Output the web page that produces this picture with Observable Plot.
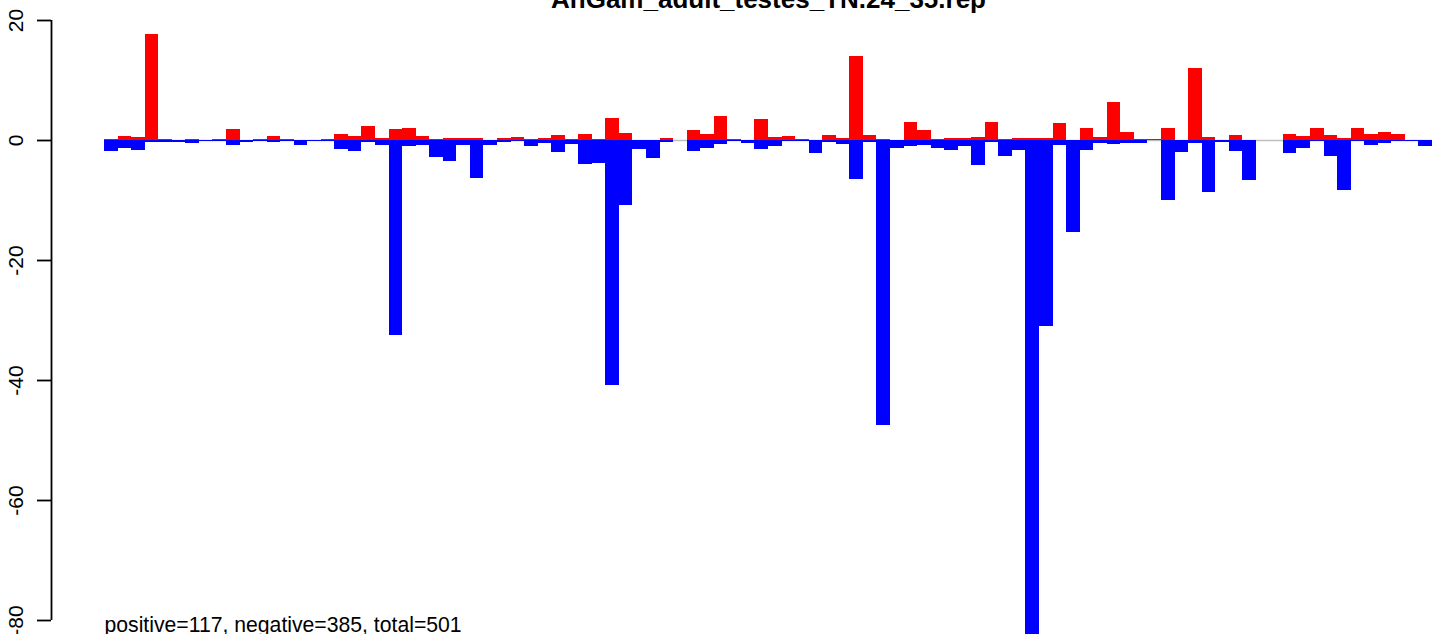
<!DOCTYPE html>
<html><head><meta charset="utf-8">
<script src="https://cdn.jsdelivr.net/npm/d3@7"></script>
<script src="https://cdn.jsdelivr.net/npm/@observablehq/plot@0.6"></script>
<style>html,body{margin:0;padding:0;background:#fff} svg{display:block}</style>
</head><body><div id="chart"></div>
<script>
const title = "AnGam_adult_testes_TN.24_35.rep";
const caption = "positive=117, negative=385, total=501";
const positive = [
  0.17, 0.67, 0.5, 17.67, 0.17, 0, 0.17, 0.05, 0.17, 1.83,
  0, 0.17, 0.67, 0.17, 0, 0, 0.17, 1.0, 0.67, 2.33,
  0.33, 1.83, 2.0, 0.67, 0.17, 0.33, 0.33, 0.33, 0, 0.33,
  0.5, 0.17, 0.33, 0.83, 0.17, 1.0, 0.17, 3.67, 1.17, 0,
  0, 0.33, 0, 1.67, 1.0, 4.0, 0.17, 0, 3.5, 0.5,
  0.67, 0.17, 0, 0.83, 0.33, 14.0, 0.83, 0.17, 0, 3.0,
  1.67, 0.17, 0.33, 0.33, 0.5, 3.0, 0.17, 0.33, 0.33, 0.33,
  2.83, 0, 2.0, 0.5, 6.33, 1.33, 0.17, 0.17, 2.0, 0,
  12.0, 0.5, 0, 0.83, 0, 0.05, 0, 1.0, 0.67, 2.0,
  0.83, 0.33, 2.0, 1.0, 1.33, 1.0, 0, 0
];
const negative = [
  -1.83, -1.28, -1.67, -0.28, -0.28, -0.28, -0.5, -0.17, -0.1, -0.83,
  -0.33, -0.1, -0.33, -0.17, -0.83, -0.17, -0.17, -1.5, -1.83, -0.33,
  -0.83, -32.5, -1.0, -0.83, -2.83, -3.5, -0.83, -6.33, -0.83, -0.33,
  -0.17, -1.0, -0.5, -2.0, -0.67, -4.0, -3.83, -40.8, -10.83, -1.5,
  -3.0, -0.33, 0, -1.83, -1.33, -0.67, -0.17, -0.5, -1.5, -1.0,
  -0.17, -0.17, -2.17, -0.33, -0.67, -6.5, -0.33, -47.5, -1.33, -1.0,
  -0.83, -1.33, -1.67, -1.0, -4.17, -0.33, -2.67, -1.67, -82.5, -31.0,
  -0.83, -15.4, -1.67, -0.5, -0.67, -0.5, -0.5, 0, -10.0, -2.0,
  -0.5, -8.67, -0.33, -1.83, -6.67, 0, 0, -2.17, -1.33, -0.17,
  -2.67, -8.33, -0.17, -0.83, -0.5, -0.17, -0.1, -1.0
];
const yTicks = [20, 0, -20, -40, -60, -80];
const yTickLabels = ["20", "0", "-20", "-40", "-60", "-80"];

const bars = positive.map((p, i) => ({i, next: i + 1, pos: p, neg: negative[i]}));

const chart = Plot.plot({
  width: 1433, height: 634,
  marginLeft: 104, marginRight: 1, marginTop: 20, marginBottom: 14,
  x: {domain: [0, positive.length], axis: null},
  y: {domain: [-80, 20], axis: null},
  style: {fontFamily: "'Liberation Sans', Arial, sans-serif", background: "white", overflow: "hidden", color: "black"},
  marks: [
    Plot.ruleY([0], {stroke: "#bebebe", strokeWidth: 1.5}),
    Plot.rect(bars, {x1: "i", x2: "next", y1: 0, y2: "pos", fill: "red", shapeRendering: "crispEdges"}),
    Plot.rect(bars, {x1: "i", x2: "next", y1: 0, y2: "neg", fill: "blue", shapeRendering: "crispEdges"}),
    Plot.ruleX([0], {y1: yTicks[yTicks.length - 1], y2: yTicks[0], dx: -53, stroke: "black", strokeWidth: 1.8}),
    Plot.axisY({
      ticks: yTicks,
      tickFormat: d => yTickLabels[yTicks.indexOf(d)],
      anchor: "left", tickSize: 14, tickPadding: 15, tickRotate: -90,
      dx: -53, fontSize: 21, strokeWidth: 1.8, color: "black", label: null
    }),
    Plot.text([caption], {frameAnchor: "bottom-left", dy: 11, textAnchor: "start", lineAnchor: "bottom", fontSize: 21.2, fill: "black"}),
    Plot.text([title], {frameAnchor: "top", dy: -13, lineAnchor: "bottom", fontSize: 26, fontWeight: "bold", fill: "black"})
  ]
});
document.getElementById("chart").appendChild(chart);
</script>
</body></html>
